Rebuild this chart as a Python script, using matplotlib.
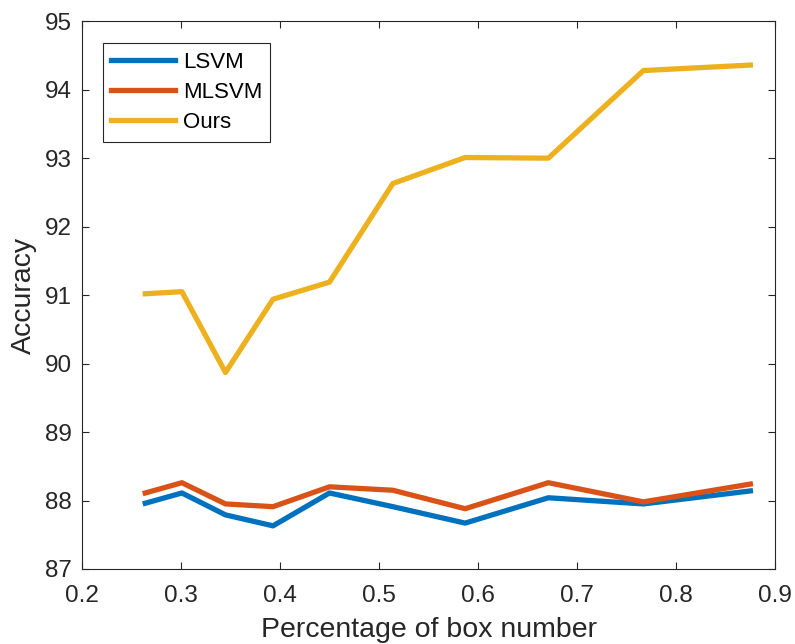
import numpy as np
import matplotlib
matplotlib.use('Agg')
import matplotlib.pyplot as plt

plt.rcParams['font.family'] = ['Liberation Sans', 'DejaVu Sans']

# box percentage vs. accuracy
box_pct = [0.264, 0.301, 0.345, 0.393, 0.450, 0.514, 0.587, 0.671, 0.767, 0.875]
lsvm = [87.96, 88.11, 87.79, 87.63, 88.11, 87.91, 87.67, 88.04, 87.95, 88.14]
mlsvm = [88.11, 88.26, 87.95, 87.91, 88.20, 88.15, 87.88, 88.26, 87.98, 88.24]
ours = [91.02, 91.05, 89.87, 90.94, 91.19, 92.63, 93.01, 93.00, 94.28, 94.36]

x_ticks = [0.2, 0.3, 0.4, 0.5, 0.6, 0.7, 0.8, 0.9]
y_ticks = [87, 88, 89, 90, 91, 92, 93, 94, 95]

fig = plt.figure(figsize=(7.95, 6.44), dpi=100)
ax = fig.add_axes([0.103, 0.1165, 0.872, 0.8505])

ax.plot(box_pct, lsvm, color='#0072BD', lw=3.8, label='LSVM')
ax.plot(box_pct, mlsvm, color='#D95319', lw=3.8, label='MLSVM')
ax.plot(box_pct, ours, color='#EDB120', lw=3.8, label='Ours')

ax.set_xlim(0.2, 0.9)
ax.set_ylim(87, 95)
ax.set_xticks(x_ticks)
ax.set_yticks(y_ticks)
ax.set_xticklabels(['%.1f' % v for v in x_ticks])
ax.tick_params(direction='in', top=True, right=True, length=5, width=0.8,
               color='#262626', labelcolor='#262626', labelsize=17.5)
ax.tick_params(axis='x', pad=11.5)
ax.tick_params(axis='y', pad=7)
for s in ax.spines.values():
    s.set_color('#262626')
    s.set_linewidth(0.8)

ax.set_xlabel('Percentage of box number', fontsize=20.5, color='#262626', labelpad=7)
ax.set_ylabel('Accuracy', fontsize=20.5, color='#262626', labelpad=6)

leg = ax.legend(loc='upper left', bbox_to_anchor=(0.0303, 0.96), borderaxespad=0,
                fontsize=16, fancybox=False, framealpha=1, edgecolor='#262626',
                handlelength=2.85, handletextpad=0.36, labelspacing=0.42,
                borderpad=0.38)
leg.get_frame().set_linewidth(0.8)

fig.savefig('out.png', dpi=100)
